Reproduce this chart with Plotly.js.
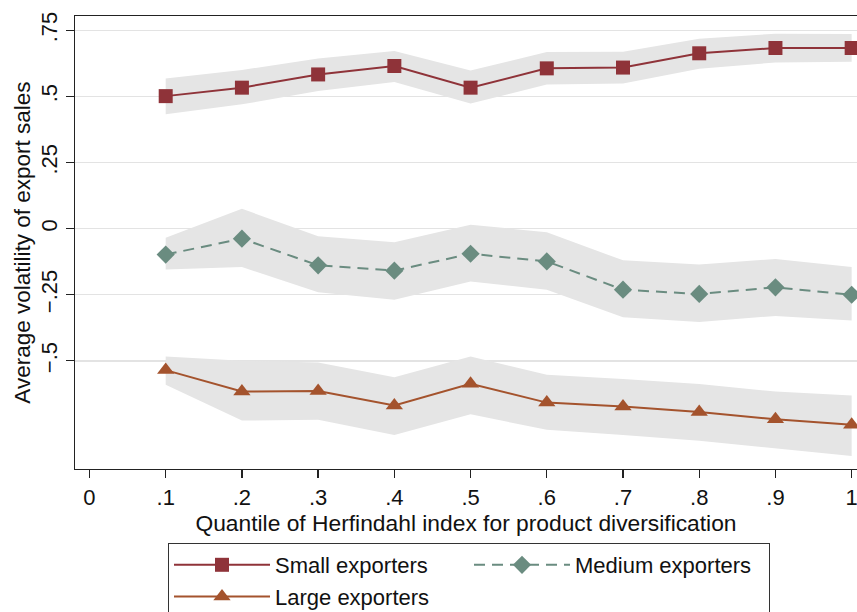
<!DOCTYPE html>
<html>
<head>
<meta charset="utf-8">
<script src="https://cdn.plot.ly/plotly-3.0.1.min.js"></script>
<style>
html,body{margin:0;padding:0;background:#fff;}
#chart{width:857px;height:612px;}
</style>
</head>
<body>
<div id="chart"></div>
<script>
// ---- data ----
const quantiles   = [0.1, 0.2, 0.3, 0.4, 0.5, 0.6, 0.7, 0.8, 0.9, 1.0];
const xTickVals   = [0, 0.1, 0.2, 0.3, 0.4, 0.5, 0.6, 0.7, 0.8, 0.9, 1.0];
const xTickText   = ['0', '.1', '.2', '.3', '.4', '.5', '.6', '.7', '.8', '.9', '1'];
const yTickVals   = [0.75, 0.5, 0.25, 0, -0.25, -0.5];
const yTickText   = ['.75', '.5', '.25', '0', '\u2212.25', '\u2212.5'];

const smallMean   = [0.501, 0.533, 0.583, 0.615, 0.533, 0.606, 0.609, 0.663, 0.683, 0.683];
const smallUpper  = [0.568, 0.600, 0.643, 0.672, 0.598, 0.668, 0.669, 0.718, 0.737, 0.736];
const smallLower  = [0.432, 0.470, 0.520, 0.554, 0.473, 0.545, 0.549, 0.605, 0.628, 0.631];

const mediumMean  = [-0.098, -0.038, -0.139, -0.159, -0.095, -0.124, -0.231, -0.247, -0.222, -0.250];
const mediumUpper = [-0.035,  0.075, -0.029, -0.052,  0.015, -0.014, -0.120, -0.136, -0.115, -0.145];
const mediumLower = [-0.155, -0.145, -0.241, -0.269, -0.200, -0.231, -0.335, -0.353, -0.330, -0.347];

const largeMean   = [-0.535, -0.616, -0.614, -0.669, -0.587, -0.658, -0.673, -0.693, -0.721, -0.742];
const largeUpper  = [-0.484, -0.500, -0.506, -0.562, -0.484, -0.553, -0.569, -0.588, -0.616, -0.631];
const largeLower  = [-0.590, -0.726, -0.723, -0.780, -0.702, -0.761, -0.780, -0.802, -0.831, -0.860];

const seriesNames = ['Small exporters', 'Medium exporters', 'Large exporters'];

// ---- styles ----
const FONT = '"Liberation Sans", Arial, Helvetica, sans-serif';
const bandColor = '#e5e5e5';
const cSmall = '#8f3339';
const cMedium = '#6a8c80';
const cLarge = '#a4532d';

function band(upper, lower) {
  return {
    x: quantiles.concat(quantiles.slice().reverse()),
    y: upper.concat(lower.slice().reverse()),
    type: 'scatter', mode: 'lines', fill: 'toself',
    fillcolor: bandColor, line: {width: 0, color: bandColor},
    showlegend: false, hoverinfo: 'skip'
  };
}

const traces = [
  band(smallUpper, smallLower),
  band(mediumUpper, mediumLower),
  band(largeUpper, largeLower),
  {
    x: quantiles, y: smallMean, name: seriesNames[0], type: 'scatter', mode: 'lines+markers',
    line: {color: cSmall, width: 2},
    marker: {symbol: 'square', size: 14, color: cSmall}
  },
  {
    x: quantiles, y: mediumMean, name: seriesNames[1], type: 'scatter', mode: 'lines+markers',
    line: {color: cMedium, width: 2, dash: '11px,7px'},
    marker: {symbol: 'diamond', size: 14, color: cMedium}
  },
  {
    x: quantiles, y: largeMean, name: seriesNames[2], type: 'scatter', mode: 'lines+markers',
    line: {color: cLarge, width: 2},
    marker: {symbol: 'triangle-up', size: 15, color: cLarge}
  }
];

const xRange = [-0.019, 1.007];

const layout = {
  width: 857, height: 612,
  margin: {l: 75, r: 0, t: 16, b: 143, pad: 0},
  paper_bgcolor: '#ffffff', plot_bgcolor: '#ffffff',
  font: {family: FONT, size: 22, color: '#111111'},
  showlegend: true,
  xaxis: {
    range: xRange,
    tickmode: 'array', tickvals: xTickVals, ticktext: xTickText,
    ticks: 'outside', ticklen: 8, tickwidth: 1.3, tickcolor: '#222222',
    ticklabeloverflow: 'allow',
    showgrid: false, zeroline: false,
    showline: true, linecolor: '#222222', linewidth: 1.3, mirror: true,
    tickfont: {family: FONT, size: 22, color: '#111111'},
    automargin: true,
    title: {text: 'Quantile of Herfindahl index for product diversification',
            font: {family: FONT, size: 22.8, color: '#111111'}, standoff: 0}
  },
  xaxis2: {
    range: xRange, overlaying: 'x', anchor: 'y', side: 'bottom',
    tickmode: 'array', tickvals: quantiles,
    showgrid: true, gridcolor: '#e3e3e3', gridwidth: 1.5,
    showticklabels: false, ticks: '', showline: false, zeroline: false
  },
  yaxis: {
    range: [-0.909, 0.804],
    tickmode: 'array', tickvals: yTickVals, ticktext: yTickText,
    tickangle: -90,
    ticks: 'outside', ticklen: 8, tickwidth: 1.3, tickcolor: '#222222',
    showgrid: true, gridcolor: '#e3e3e3', gridwidth: 1.5, zeroline: false,
    showline: true, linecolor: '#222222', linewidth: 1.3,
    tickfont: {family: FONT, size: 22, color: '#111111'},
    automargin: true,
    title: {text: 'Average volatility of export sales',
            font: {family: FONT, size: 22.5, color: '#111111'}, standoff: 0}
  },
  legend: {
    orientation: 'h',
    xref: 'container', yref: 'container',
    x: 168/857, y: 1 - 543/612, xanchor: 'left', yanchor: 'top',
    bordercolor: '#333333', borderwidth: 1, bgcolor: '#ffffff',
    itemwidth: 96, entrywidth: 189,
    font: {family: FONT, size: 22, color: '#111111'},
    traceorder: 'normal'
  }
};

Plotly.newPlot('chart', traces, layout, {displayModeBar: false, staticPlot: true});
</script>
</body>
</html>
